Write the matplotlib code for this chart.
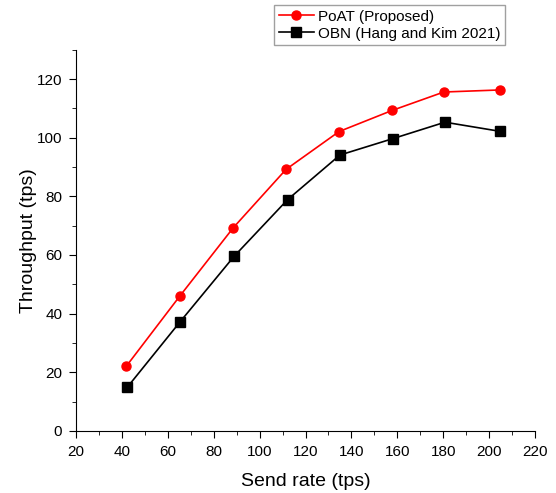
import matplotlib.pyplot as plt
from matplotlib.ticker import MultipleLocator

plt.rcParams['font.family'] = ['Liberation Sans', 'DejaVu Sans']

# dados
send_rate_poat = [41.8, 65.3, 88.5, 111.5, 134.6, 157.7, 180.3, 204.7]
throughput_poat = [22.0, 46.1, 69.3, 89.2, 102.1, 109.3, 115.6, 116.3]
send_rate_obn = [42.2, 65.3, 88.8, 112.2, 135.0, 158.1, 180.8, 204.7]
throughput_obn = [14.8, 37.2, 59.5, 78.9, 94.1, 99.7, 105.3, 102.2]

fig = plt.figure(figsize=(5.56, 4.93), dpi=100)
ax = fig.add_axes([0.137, 0.126, 0.825, 0.773])

ax.plot(send_rate_poat, throughput_poat, color='red', marker='o', markersize=6.5,
        linewidth=1.2, label='PoAT (Proposed)')
ax.plot(send_rate_obn, throughput_obn, color='black', marker='s', markersize=6.5,
        linewidth=1.2, label='OBN (Hang and Kim 2021)')

ax.set_xlim(20, 220)
ax.set_ylim(0, 130)
ax.xaxis.set_major_locator(MultipleLocator(20))
ax.xaxis.set_minor_locator(MultipleLocator(10))
ax.yaxis.set_major_locator(MultipleLocator(20))
ax.yaxis.set_minor_locator(MultipleLocator(10))
ax.spines['top'].set_visible(False)
ax.spines['right'].set_visible(False)
ax.tick_params(which='major', direction='out', length=5, labelsize=11, pad=5)
ax.tick_params(which='minor', direction='out', length=3)

ax.set_xlabel('Send rate (tps)', fontsize=14, labelpad=10)
ax.set_ylabel('Throughput (tps)', fontsize=14, labelpad=0)

fig.legend(loc='upper left', bbox_to_anchor=(0.493, 0.99), fontsize=11,
           frameon=True, fancybox=False, edgecolor='#888888',
           borderpad=0.3, labelspacing=0.2, handlelength=2.3, handletextpad=0.3,
           borderaxespad=0)

fig.savefig('out.png', dpi=100)
